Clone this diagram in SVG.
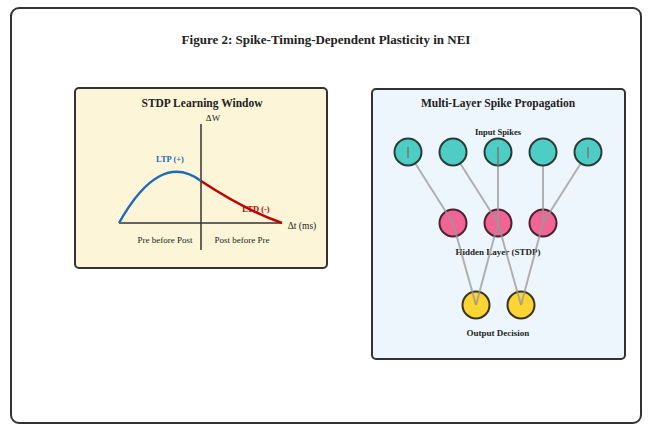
<svg xmlns="http://www.w3.org/2000/svg" width="656" height="431" viewBox="0 0 656 431">
<style>
text{font-family:"Liberation Serif","Times New Roman",serif;fill:#222;text-anchor:middle}
.b{font-weight:bold}
.panel{stroke:#333;stroke-width:2}
.axis{stroke:#333;stroke-width:1.5;fill:none}
.conn{stroke:#999;stroke-width:2;opacity:0.75}
.in{fill:#4ecdc4;stroke:#2a3b3a;stroke-width:2}
.hid{fill:#f06595;stroke:#4a2230;stroke-width:2}
.out{fill:#fcd535;stroke:#3a3320;stroke-width:2}
.tick{stroke:#777;stroke-width:1.5}
</style>
<rect x="0" y="0" width="656" height="431" fill="#fff"/>
<rect x="11" y="8" width="630" height="415" rx="8" fill="#fff" stroke="#333" stroke-width="2"/>
<text class="b" x="326" y="44" font-size="13">Figure 2: Spike-Timing-Dependent Plasticity in NEI</text>

<g id="stdp-panel">
<rect class="panel" x="75" y="88" width="252" height="180" rx="4" fill="#fdf5d8"/>
<text class="b" x="202" y="107" font-size="11.5">STDP Learning Window</text>
<line class="axis" x1="201" y1="124" x2="201" y2="250"/>
<line class="axis" x1="119" y1="223" x2="282" y2="223"/>
<text x="213" y="121" font-size="9">ΔW</text>
<text x="302" y="229" font-size="9.5">Δt (ms)</text>
<path d="M119,223 Q160,150 201,181" fill="none" stroke="#1f6bb8" stroke-width="2.5"/>
<path d="M201,181 Q245,210 282,223" fill="none" stroke="#c00000" stroke-width="2.5"/>
<text class="b" x="170" y="162" font-size="8.5" style="fill:#1f6bb8">LTP (+)</text>
<text class="b" x="256" y="212" font-size="8.5" style="fill:#c00000">LTD (-)</text>
<text x="165" y="243" font-size="9">Pre before Post</text>
<text x="242" y="243" font-size="9">Post before Pre</text>
</g>

<g id="network-panel">
<rect class="panel" x="372" y="89" width="253" height="270" rx="4" fill="#eef6fd"/>
<text class="b" x="498" y="107" font-size="11.5">Multi-Layer Spike Propagation</text>
<text class="b" x="498" y="135" font-size="8.5">Input Spikes</text>
<text class="b" x="498" y="255" font-size="9">Hidden Layer (STDP)</text>
<text class="b" x="498" y="336" font-size="9">Output Decision</text>
</g>

<g id="hidden-0"><circle class="hid" cx="453" cy="223" r="13.5"/></g>
<g id="hidden-1"><circle class="hid" cx="498" cy="223" r="13.5"/></g>
<g id="hidden-2"><circle class="hid" cx="543" cy="223" r="13.5"/></g>

<g id="output-0"><circle class="out" cx="476" cy="305" r="13.5"/></g>
<g id="output-1"><circle class="out" cx="521" cy="305" r="13.5"/></g>

<g id="connectors">
<line class="conn" x1="408" y1="152" x2="453" y2="223"/>
<line class="conn" x1="453" y1="152" x2="498" y2="223"/>
<line class="conn" x1="498" y1="152" x2="498" y2="223"/>
<line class="conn" x1="543" y1="152" x2="543" y2="223"/>
<line class="conn" x1="588" y1="152" x2="543" y2="223"/>
<line class="conn" x1="453" y1="223" x2="476" y2="305"/>
<line class="conn" x1="498" y1="223" x2="476" y2="305"/>
<line class="conn" x1="498" y1="223" x2="521" y2="305"/>
<line class="conn" x1="543" y1="223" x2="521" y2="305"/>
</g>

<g id="input-0"><circle class="in" cx="408" cy="152" r="13.5"/><line class="tick" x1="408" y1="147" x2="408" y2="158"/></g>
<g id="input-1"><circle class="in" cx="453" cy="152" r="13.5"/></g>
<g id="input-2"><circle class="in" cx="498" cy="152" r="13.5"/><line class="tick" x1="498" y1="147" x2="498" y2="166"/></g>
<g id="input-3"><circle class="in" cx="543" cy="152" r="13.5"/></g>
<g id="input-4"><circle class="in" cx="588" cy="152" r="13.5"/><line class="tick" x1="588" y1="147" x2="588" y2="158"/></g>
</svg>
